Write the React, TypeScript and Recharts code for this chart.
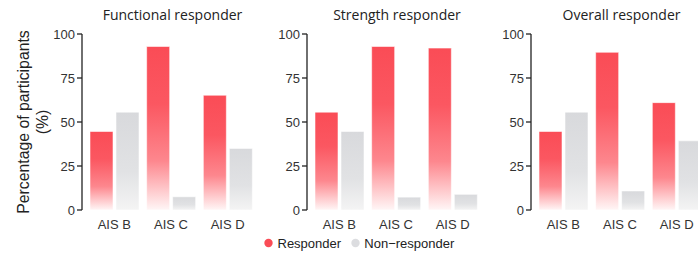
import React from "react";
import { BarChart, Bar, XAxis, YAxis } from "recharts";

const categories = ["AIS B", "AIS C", "AIS D"];
const panelTitles = ["Functional responder", "Strength responder", "Overall responder"];
const functionalResponder = [44.6, 92.9, 65.2];
const functionalNon = [55.6, 7.5, 35.0];
const strengthResponder = [55.6, 92.9, 92.0];
const strengthNon = [44.6, 7.3, 8.9];
const overallResponder = [44.6, 89.6, 61.0];
const overallNon = [55.6, 10.8, 39.3];
const yTicks = [0, 25, 50, 75, 100];
const seriesNames = ["Responder", "Non\u2212responder"];

const panels = [
  { title: panelTitles[0], resp: functionalResponder, non: functionalNon },
  { title: panelTitles[1], resp: strengthResponder, non: strengthNon },
  { title: panelTitles[2], resp: overallResponder, non: overallNon },
];

const FONT = "'Liberation Sans', Arial, sans-serif";
const TITLE_FONT = "'Open Sans', 'Noto Sans', sans-serif";

const PLOT_LEFTS = [82, 306.5, 531];
const YAXIS_W = 52;
const CHART_W = 241;
const CHART_H = 240;

function Panel({ idx }: { idx: number }) {
  const p = panels[idx];
  const data = categories.map((c, i) => ({ cat: c, resp: p.resp[i], non: p.non[i] }));
  const left = PLOT_LEFTS[idx] - YAXIS_W;
  return (
    <div style={{ position: "absolute", left, top: 0, width: CHART_W, height: CHART_H }}>
      <BarChart
        width={CHART_W}
        height={CHART_H}
        data={data}
        margin={{ top: 34, right: 8, bottom: 0, left: 0 }}
        barCategoryGap={4}
        barGap={3}
      >
        <defs>
          <linearGradient id={`red${idx}`} x1="0" y1="0" x2="0" y2="1">
            <stop offset="0" stopColor="#fa4c56" />
            <stop offset="0.35" stopColor="#fb5761" />
            <stop offset="0.7" stopColor="#fd878e" />
            <stop offset="1" stopColor="#fff6f6" />
          </linearGradient>
          <linearGradient id={`gray${idx}`} x1="0" y1="0" x2="0" y2="1">
            <stop offset="0" stopColor="#d8d9dc" />
            <stop offset="0.6" stopColor="#e1e2e4" />
            <stop offset="1" stopColor="#f4f4f4" />
          </linearGradient>
        </defs>
        <XAxis
          dataKey="cat"
          axisLine={false}
          tickLine={false}
          height={30}
          padding={{ left: 4, right: 7 }}
          tick={{ fill: "#333", fontSize: 13, fontFamily: FONT }}
          tickMargin={4}
          interval={0}
        />
        <YAxis
          domain={[0, 100]}
          ticks={yTicks}
          width={YAXIS_W}
          axisLine={{ stroke: "#222", strokeWidth: 1.3 }}
          tickLine={{ stroke: "#222", strokeWidth: 1.3 }}
          tickSize={5}
          tick={{ fill: "#333", fontSize: 13, fontFamily: FONT }}
        />
        <Bar
          dataKey="resp"
          fill={`url(#red${idx})`}
          stroke="rgba(255,255,255,0.55)"
          strokeWidth={1}
          isAnimationActive={false}
        />
        <Bar
          dataKey="non"
          fill={`url(#gray${idx})`}
          stroke="rgba(255,255,255,0.55)"
          strokeWidth={1}
          isAnimationActive={false}
        />
      </BarChart>
      <div
        style={{
          position: "absolute",
          left: YAXIS_W,
          width: 181,
          top: 4,
          textAlign: "center",
          fontFamily: TITLE_FONT,
          fontSize: 14,
          color: "#222",
          lineHeight: "22px",
          whiteSpace: "nowrap",
        }}
      >
        {p.title}
      </div>
    </div>
  );
}

export default function App() {
  return (
    <div style={{ position: "absolute", left: 0, top: 0, width: 698, height: 256, background: "#fff", overflow: "hidden" }}>
      <svg width={60} height={256} style={{ position: "absolute", left: 0, top: 0 }}>
        <text
          transform="translate(28.5,122) rotate(-90)"
          textAnchor="middle"
          fontFamily={FONT}
          fontSize={15.8}
          fill="#222"
        >
          Percentage of participants
        </text>
        <text
          transform="translate(48,122) rotate(-90)"
          textAnchor="middle"
          fontFamily={FONT}
          fontSize={15.8}
          fill="#222"
        >
          (%)
        </text>
      </svg>
      {panels.map((_, i) => (
        <Panel key={i} idx={i} />
      ))}
      <svg width={698} height={20} style={{ position: "absolute", left: 0, top: 233 }}>
        <circle cx={268.5} cy={10} r={4.2} fill="#fa4c56" />
        <text x={277.5} y={14.5} fontFamily={FONT} fontSize={13} fill="#222">
          {seriesNames[0]}
        </text>
        <circle cx={355.5} cy={10} r={4.2} fill="#dcdde0" />
        <text x={364.3} y={14.5} fontFamily={FONT} fontSize={13} fill="#222">
          {seriesNames[1]}
        </text>
      </svg>
    </div>
  );
}
